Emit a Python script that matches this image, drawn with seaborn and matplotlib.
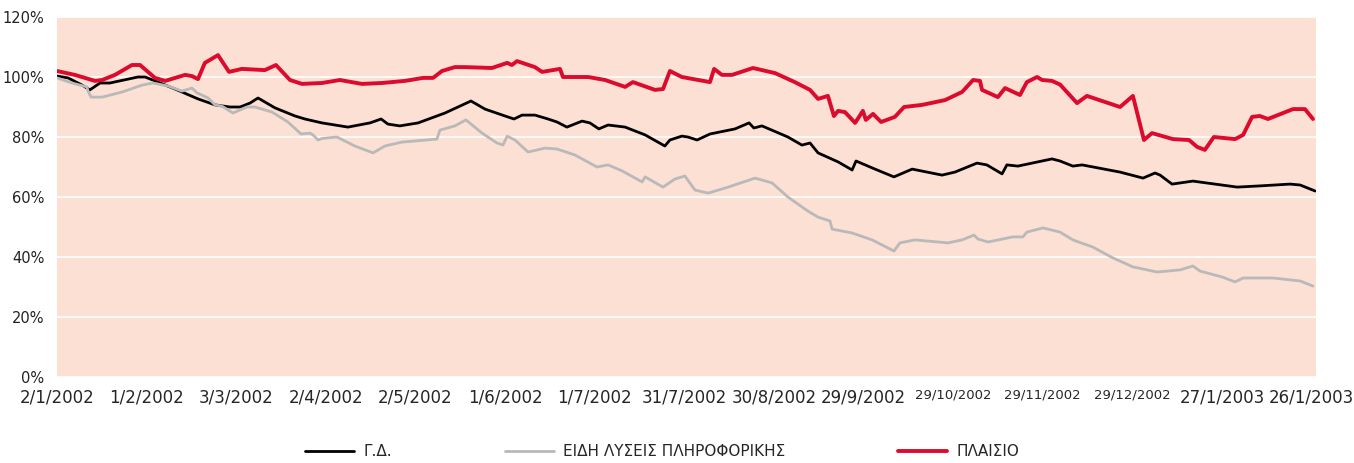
import pandas as pd
import seaborn as sns
import matplotlib.pyplot as plt
from matplotlib.ticker import FuncFormatter

#=====================
# Data (days since 2/1/2002, index value in %)
#=====================

gd_day = [0, 3.7, 8.4, 11, 14.4, 17.7, 27.1, 29.5, 33.8, 39.5, 47.2, 52.9, 57.9, 61.3, 64.6,
          67.3, 73, 79.7, 83, 88.7, 97.4, 104.8, 108.5, 110.8, 114.8, 120.9, 129.9, 138.6,
          143.3, 150, 153, 155.7, 160, 164.4, 167.4, 170.7, 175.8, 178.4, 181.4, 184.5, 190.2,
          196.9, 203.5, 205.2, 209.2, 211.2, 214.3, 218.6, 227, 231.7, 233.3, 236, 244.7, 249.4,
          252.1, 254.8, 261.5, 266.2, 267.5, 272.9, 280.2, 286.3, 296.3, 300.6, 308, 311.3,
          316.4, 318, 321.7, 333.1, 335.8, 340.1, 343.2, 355.9, 363.6, 367.6, 369.3, 373.3,
          380.3, 395.1, 402.7, 412.8, 416.2, 421.2]
gd_val = [100.3, 99.7, 97.3, 95.7, 98, 98, 100, 100, 98.3, 96, 92.7, 90.7, 90, 90, 91.3,
          93, 89.7, 87, 86, 84.7, 83.3, 84.7, 86, 84.3, 83.7, 84.7, 88, 92,
          89.3, 87, 86, 87.3, 87.3, 86, 85, 83.3, 85.3, 84.7, 82.7, 84, 83.3,
          80.7, 77, 79, 80.3, 80, 79, 81, 82.7, 84.7, 83, 83.7, 80, 77.3,
          78, 74.7, 71.7, 69, 72, 69.7, 66.7, 69.3, 67.3, 68.3, 71.3, 70.7,
          67.7, 70.7, 70.3, 72.7, 72, 70.3, 70.7, 68.3, 66.3, 68, 67.3, 64.3,
          65.3, 63.3, 63.7, 64.3, 64, 62]

it_day = [0, 5, 10, 10.4, 11.4, 15.1, 21.8, 28.5, 32.1, 37.2, 41.8, 45.2, 46.9, 50.6, 52.9,
          55.2, 58.9, 63.6, 66.3, 72, 77.3, 81.7, 84.7, 85.7, 87.4, 88.7, 93.7, 99.7, 105.8,
          109.8, 115.5, 127.2, 128.2, 133.2, 136.9, 142.3, 147.3, 149.3, 150.7, 153.3, 157.7,
          163.4, 167.4, 173.4, 180.8, 184.5, 189.2, 195.9, 196.9, 202.9, 206.9, 210.2, 213.6,
          218, 224.7, 233.7, 239.4, 244.7, 251.4, 254.8, 258.8, 259.5, 266.2, 272.9, 280.2,
          282.2, 287.2, 298.3, 303, 307, 308.3, 311.7, 320, 323.4, 324.7, 330.1, 335.8, 340.1,
          346.8, 353.5, 360.2, 368.3, 376, 380.3, 382.7, 390.2, 394.4, 397.1, 407.1, 416.2, 420.5]
it_val = [99.7, 98, 96.7, 95.3, 93.3, 93.3, 95, 97.3, 98, 97, 95.3, 96.3, 94.7, 93, 90.7,
          90.3, 88, 90, 90, 88.3, 85, 81, 81.3, 80.7, 79, 79.5, 80, 77, 74.7,
          77, 78.3, 79.3, 82.3, 83.7, 85.7, 81.3, 78, 77.3, 80.3, 79, 75,
          76.3, 76, 74, 70, 70.7, 68.7, 65, 66.7, 63.3, 66, 67, 62.3,
          61.3, 63.3, 66.3, 64.7, 60, 55.3, 53.3, 52, 49.3, 48, 45.7, 42,
          44.7, 45.7, 44.7, 45.7, 47.3, 46, 45, 46.7, 46.7, 48.3, 49.7, 48.3, 45.7,
          43.3, 39.7, 36.7, 35, 35.7, 37, 35.3, 33.3, 31.7, 33, 33, 32, 30.3]

pl_day = [0, 6, 12.7, 15.1, 19.4, 25.1, 27.8, 32.8, 36.2, 42.9, 45.2, 47.2, 49.5, 53.9, 57.6,
          61.9, 69.6, 73.3, 78, 82, 88.7, 94.7, 102.1, 108.8, 116.5, 122.5, 125.9, 128.9,
          133.2, 136.6, 145.6, 150.7, 152.3, 154, 160, 162.4, 168.4, 169.4, 177.8, 183.5,
          190.2, 192.8, 200.2, 202.9, 205.2, 209.2, 218.6, 220, 222.6, 226, 233, 240.4, 247,
          252.1, 254.8, 258.1, 260.1, 261.5, 263.8, 267.2, 269.8, 270.8, 273.2, 275.9, 280.5,
          283.6, 289.6, 297.3, 303, 306.7, 309, 309.7, 315, 317.4, 322.4, 324.7, 328.1, 329.8,
          333.1, 335.8, 341.5, 344.8, 355.9, 360.2, 363.9, 366.6, 373.6, 379, 381.7, 384.3,
          387.3, 394.4, 397.1, 400.1, 402.7, 405.4, 413.8, 417.8, 420.5]
pl_val = [102, 100.7, 98.7, 99, 100.7, 104, 104, 99.7, 98.7, 100.7, 100.3, 99.3, 104.7, 107.3, 101.7,
          102.7, 102.3, 104, 99, 97.7, 98, 99, 97.7, 98, 98.7, 99.7, 99.7, 102,
          103.3, 103.3, 103, 104.7, 104, 105.3, 103.3, 101.7, 102.7, 100, 100, 99,
          96.7, 98.3, 95.7, 96, 102, 100, 98.3, 102.7, 100.7, 100.7, 103, 101.3, 98.3,
          95.7, 92.7, 93.7, 87, 88.7, 88.3, 84.7, 88.7, 85.7, 87.7, 85, 86.7,
          90, 90.7, 92.3, 95, 99, 98.7, 95.7, 93.3, 96.3, 94, 98.3, 100, 99,
          98.7, 97.5, 91.3, 93.7, 90, 93.7, 79, 81.3, 79.3, 79, 76.7, 75.7,
          80, 79.3, 80.7, 86.7, 87, 86, 89.3, 89.3, 86]

tick_labels = ['2/1/2002', '1/2/2002', '3/3/2002', '2/4/2002', '2/5/2002', '1/6/2002',
               '1/7/2002', '31/7/2002', '30/8/2002', '29/9/2002', '29/10/2002',
               '29/11/2002', '29/12/2002', '27/1/2003', '26/1/2003']

series = ['Γ.Δ.', 'ΕΙΔΗ ΛΥΣΕΙΣ ΠΛΗΡΟΦΟΡΙΚΗΣ', 'ΠΛΑΙΣΙΟ']
colors = ['#000000', '#b9b9b9', '#dc0a2d']
widths = [2.0, 2.0, 2.8]

df = pd.concat([
    pd.DataFrame({'day': gd_day, 'value': gd_val, 'series': series[0]}),
    pd.DataFrame({'day': it_day, 'value': it_val, 'series': series[1]}),
    pd.DataFrame({'day': pl_day, 'value': pl_val, 'series': series[2]}),
])

#=====================
# Plot
#=====================

sns.set_style('white')
plt.rcParams['font.family'] = ['DejaVu Sans']

fig = plt.figure(figsize=(13.54, 4.63), dpi=100)
ax = fig.add_axes([57/1354, 1 - 377/463, (1316-57)/1354, 360/463])
ax.set_facecolor('#fbe0d3')

for name, c, w in zip(series, colors, widths):
    sns.lineplot(data=df[df['series'] == name], x='day', y='value', color=c,
                 linewidth=w, sort=False, estimator=None, label=name, ax=ax)

ax.set_ylim(0, 120)
ax.set_xlim(0, 421.5)
ax.set_yticks(range(0, 121, 20))
ax.yaxis.set_major_formatter(FuncFormatter(lambda v, p: f'{int(v)}%'))
ax.grid(axis='y', color='white', linewidth=1.2)
ax.grid(axis='x', visible=False)
ax.set_axisbelow(True)
for s in ax.spines.values():
    s.set_visible(False)

ax.set_xticks([30 * i for i in range(len(tick_labels))])
ax.set_xticklabels(tick_labels)
for lab in ax.get_xticklabels():
    if len(lab.get_text()) == 10:
        lab.set_fontsize(9.5)
    else:
        lab.set_fontsize(12)
ax.tick_params(axis='x', direction='inout', length=9, width=1.8, color='black', pad=4)
ax.tick_params(axis='y', length=0, labelsize=10.5, pad=9, labelcolor='#222222')
ax.xaxis.get_major_ticks()[0].tick1line.set_visible(False)
ax.set_xlabel('')
ax.set_ylabel('')

ax.get_legend().remove()
handles, labels = ax.get_legend_handles_labels()
fig.legend(handles, labels, loc='center', bbox_to_anchor=(0.489, 0.024), ncol=3,
           frameon=False, fontsize=11, handlelength=3.2, handletextpad=0.6,
           columnspacing=7.4)

plt.savefig('out.png', dpi=100)
